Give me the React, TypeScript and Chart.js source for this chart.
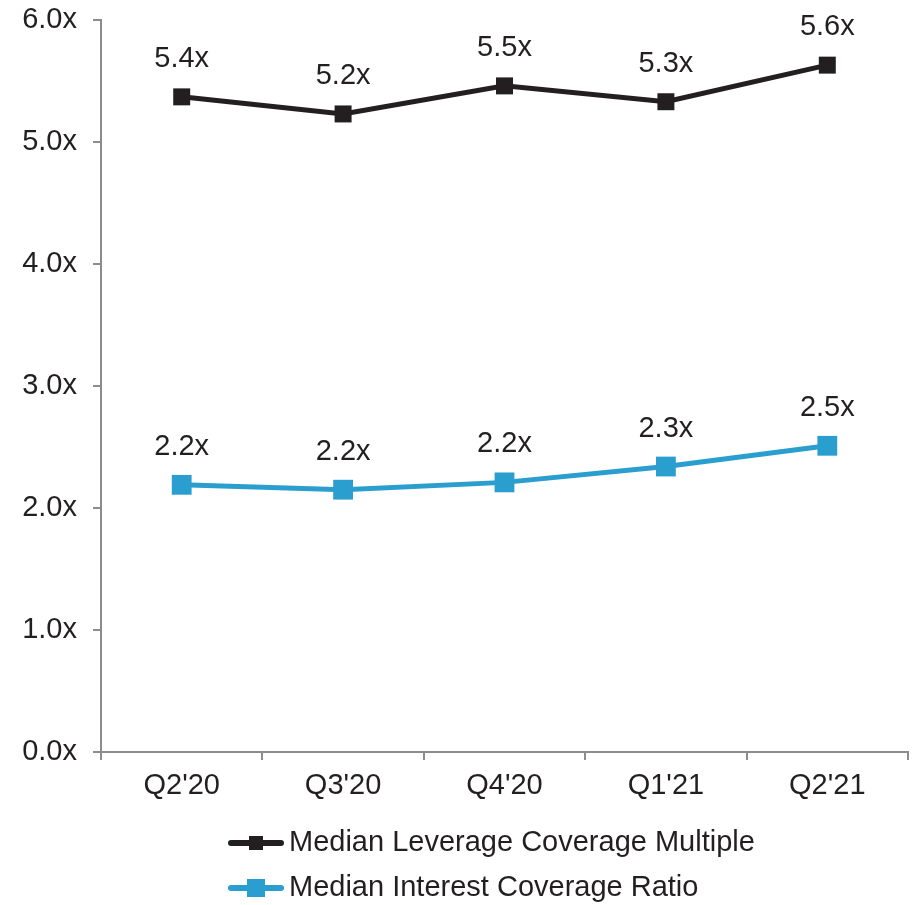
import React, { useEffect, useRef } from "react";
import { Chart, registerables } from "chart.js";

Chart.register(...registerables);

const categories = ["Q2'20", "Q3'20", "Q4'20", "Q1'21", "Q2'21"];
const leverageValues = [5.37, 5.23, 5.46, 5.33, 5.63];
const leverageLabels = ["5.4x", "5.2x", "5.5x", "5.3x", "5.6x"];
const interestValues = [2.19, 2.15, 2.21, 2.34, 2.51];
const interestLabels = ["2.2x", "2.2x", "2.2x", "2.3x", "2.5x"];
const seriesNames = ["Median Leverage Coverage Multiple", "Median Interest Coverage Ratio"];

const FONT = "'Liberation Sans', Arial, sans-serif";
const FS = 29;
const TEXT = "#231f20";
const BLACK = "#231f20";
const BLUE = "#2a9fcf";
const AXIS = "#8c8c8c";

export default function App() {
  const ref = useRef<HTMLCanvasElement | null>(null);
  useEffect(() => {
    if (!ref.current) return;
    const labelPlugin = {
      id: "valueLabels",
      afterDatasetsDraw(chart: any) {
        const ctx = chart.ctx;
        ctx.save();
        ctx.font = `${FS}px ${FONT}`;
        ctx.fillStyle = TEXT;
        ctx.textAlign = "center";
        ctx.textBaseline = "middle";
        const all = [leverageLabels, interestLabels];
        chart.data.datasets.forEach((_: any, i: number) => {
          const meta = chart.getDatasetMeta(i);
          meta.data.forEach((pt: any, j: number) => {
            ctx.fillText(all[i][j], pt.x, pt.y - 38);
          });
        });
        ctx.restore();
      },
    };
    const legendPlugin = {
      id: "customLegend",
      afterDraw(chart: any) {
        const ctx = chart.ctx;
        ctx.save();
        const colors = [BLACK, BLUE];
        const sizes = [14, 18];
        const ys = [843, 888];
        for (let i = 0; i < 2; i++) {
          const y = ys[i];
          ctx.strokeStyle = colors[i];
          ctx.lineWidth = 6;
          ctx.lineCap = "round";
          ctx.beginPath();
          ctx.moveTo(231, y);
          ctx.lineTo(281, y);
          ctx.stroke();
          ctx.fillStyle = colors[i];
          ctx.fillRect(256 - sizes[i] / 2, y - sizes[i] / 2, sizes[i], sizes[i]);
          ctx.font = `${FS}px ${FONT}`;
          ctx.fillStyle = TEXT;
          ctx.textAlign = "left";
          ctx.textBaseline = "middle";
          ctx.fillText(seriesNames[i], 289, y);
        }
        ctx.restore();
      },
    };
    const chart = new Chart(ref.current, {
      type: "line",
      data: {
        labels: categories,
        datasets: [
          {
            label: seriesNames[0],
            data: leverageValues,
            borderColor: BLACK,
            backgroundColor: BLACK,
            borderWidth: 5,
            pointStyle: "rect",
            pointRadius: 12,
            pointBorderWidth: 0,
            pointBackgroundColor: BLACK,
            tension: 0,
          },
          {
            label: seriesNames[1],
            data: interestValues,
            borderColor: BLUE,
            backgroundColor: BLUE,
            borderWidth: 5,
            pointStyle: "rect",
            pointRadius: 14,
            pointBorderWidth: 0,
            pointBackgroundColor: BLUE,
            tension: 0,
          },
        ],
      },
      options: {
        animation: false,
        responsive: false,
        maintainAspectRatio: false,
        layout: { autoPadding: false, padding: { top: 20, right: 10, left: 0, bottom: 0 } },
        plugins: { legend: { display: false }, tooltip: { enabled: false } },
        scales: {
          x: {
            offset: true,
            grid: {
              offset: true,
              drawOnChartArea: false,
              drawTicks: true,
              tickLength: 8,
              color: AXIS,
              lineWidth: 2,
            },
            border: { color: AXIS, width: 2 },
            ticks: { font: { family: FONT, size: FS }, color: TEXT, padding: 9 },
            afterFit(scale: any) {
              scale.height = 153;
              scale.paddingLeft = 0;
              scale.paddingRight = 0;
            },
          },
          y: {
            min: 0,
            max: 6,
            grid: {
              drawOnChartArea: false,
              drawTicks: true,
              tickLength: 8,
              color: AXIS,
              lineWidth: 2,
            },
            border: { color: AXIS, width: 2 },
            ticks: {
              stepSize: 1,
              font: { family: FONT, size: FS },
              color: TEXT,
              padding: 16,
              callback: (v: any) => Number(v).toFixed(1) + "x",
            },
            afterFit(scale: any) {
              scale.width = 101;
              scale.paddingTop = 0;
              scale.paddingBottom = 0;
            },
          },
        },
      },
      plugins: [labelPlugin, legendPlugin],
    });
    return () => chart.destroy();
  }, []);
  return (
    <div style={{ position: "absolute", left: 0, top: 0, width: 918, height: 905, background: "#fff" }}>
      <canvas ref={ref} width={918} height={905} style={{ width: 918, height: 905 }} />
    </div>
  );
}
